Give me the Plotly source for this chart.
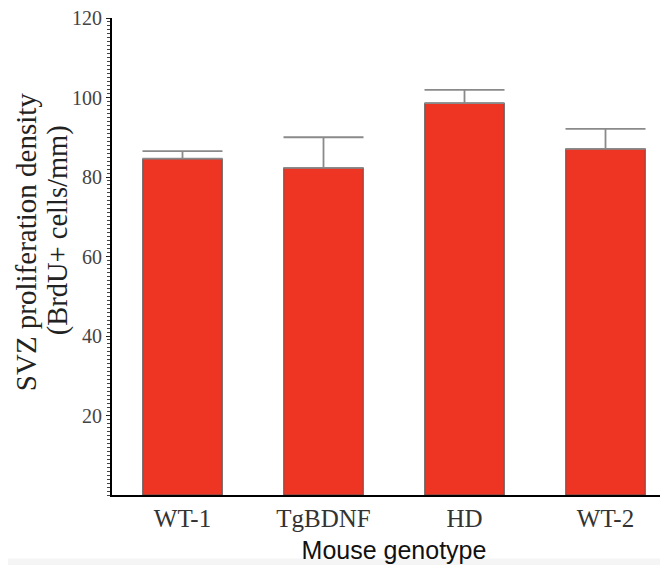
import plotly.graph_objects as go

categories = ["WT-1", "TgBDNF", "HD", "WT-2"]
means = [84.6, 82.3, 98.6, 87.1]
err_upper = [1.9, 7.7, 3.3, 5.0]
ytick_vals = [20, 40, 60, 80, 100, 120]
ytitle_lines = ["SVZ proliferation density", "(BrdU+ cells/mm)"]
xtitle = "Mouse genotype"

fig = go.Figure()
fig.add_trace(go.Bar(
    x=categories, y=means,
    width=0.564,
    marker=dict(color="#EE3524", line=dict(color="#555555", width=1)),
    error_y=dict(type="data", array=err_upper, symmetric=False, arrayminus=[0] * len(means),
                 color="#8a8a8a", thickness=1.8, width=40),
))

# two-line y-axis title as rotated annotations
for txt, xs, yc, sz in [(ytitle_lines[0], -86, 0.530, 29), (ytitle_lines[1], -54, 0.555, 28.5)]:
    fig.add_annotation(text=txt, xref="paper", yref="paper", x=0, y=yc, xshift=xs,
                       xanchor="center", yanchor="middle", textangle=-90, showarrow=False,
                       borderpad=0,
                       font=dict(family="Liberation Serif", size=sz, color="#222"))

# faint grey band at the very bottom
fig.add_shape(type="rect", xref="paper", yref="paper", x0=-0.3, x1=1.1, y0=-0.133, y1=-0.2,
              fillcolor="#f5f5f5", line=dict(width=0), layer="below")

fig.update_layout(
    width=668, height=565,
    margin=dict(l=104, r=0, t=10, b=78, autoexpand=False),
    paper_bgcolor="white", plot_bgcolor="white",
    showlegend=False,
    xaxis=dict(
        range=[-0.5, 3.5], automargin=False,
        showline=True, linecolor="black", linewidth=2,
        ticks="", showgrid=False,
        tickfont=dict(family="Liberation Serif", size=25, color="#333"),
        title=dict(text=xtitle, font=dict(family="Liberation Sans", size=25, color="#111"), standoff=10),
    ),
    yaxis=dict(
        range=[0, 120], automargin=False,
        showline=True, linecolor="black", linewidth=2,
        tickvals=ytick_vals, ticks="outside", ticklen=4, tickcolor="#222",
        ticklabeloverflow="allow",
        showgrid=False, zeroline=False,
        tickfont=dict(family="Liberation Serif", size=20, color="#444"),
        minor=dict(dtick=1, ticks="outside", ticklen=3, tickcolor="#444", tickwidth=1, showgrid=False),
    ),
)

fig.write_html("out.html")
